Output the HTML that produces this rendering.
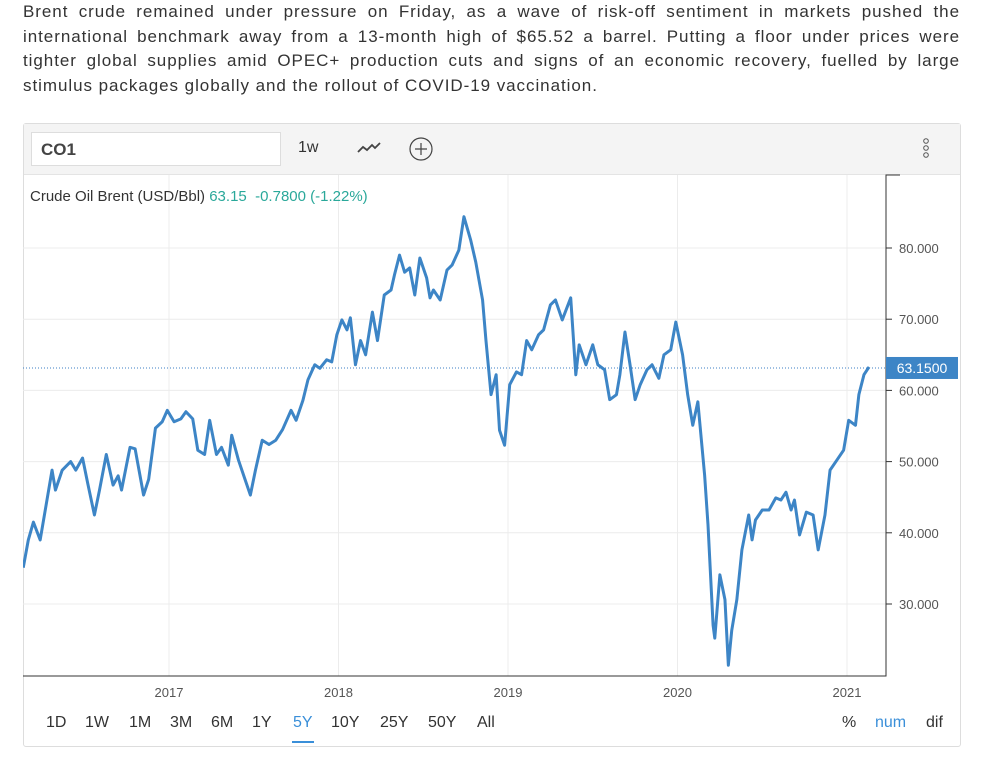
<!DOCTYPE html>
<html><head><meta charset="utf-8"><style>
body{margin:0;width:996px;height:772px;background:#fff;font-family:"Liberation Sans",sans-serif;position:relative;overflow:hidden}
#para{position:absolute;left:23px;top:0;width:937px;font-size:17px;line-height:24.5px;color:#333;letter-spacing:0.95px}
#para span{display:block;text-align:justify;text-align-last:justify;white-space:nowrap}
#para span.last{text-align-last:left}
#box{position:absolute;left:23px;top:123px;width:936px;height:622px;border:1px solid #ddd;border-radius:3px}
#tb{position:absolute;left:0;top:0;width:936px;height:50px;background:#f4f4f4;border-bottom:1px solid #e4e4e4}
#sym{position:absolute;left:7px;top:8px;height:34px;background:#fff;border:1px solid #ddd;font-weight:bold;font-size:17px;color:#444;line-height:34px;padding-left:9px;box-sizing:border-box;width:250px}
.t{position:absolute;font-size:16px;color:#333}
#svg{position:absolute;left:0;top:0}
</style></head><body>
<div id="para"><span>Brent crude remained under pressure on Friday, as a wave of risk-off sentiment in markets pushed the</span><span>international benchmark away from a 13-month high of $65.52 a barrel. Putting a floor under prices were</span><span>tighter global supplies amid OPEC+ production cuts and signs of an economic recovery, fuelled by large</span><span class="last">stimulus packages globally and the rollout of COVID-19 vaccination.</span></div>
<div id="box">
<div id="tb">
<div id="sym">CO1</div>
<div class="t" style="left:274px;top:15px">1w</div>
<svg style="position:absolute;left:332px;top:16px" width="26" height="16"><polyline points="2,12 7,7 11,10 16,5 19,8 24,3" fill="none" stroke="#444" stroke-width="1.8"/></svg>
<svg style="position:absolute;left:383px;top:11px" width="28" height="28"><circle cx="14" cy="14" r="11" fill="none" stroke="#444" stroke-width="1.2"/><path d="M14 8v12M8 14h12" stroke="#444" stroke-width="1.2"/></svg>
<svg style="position:absolute;left:897px;top:12px" width="10" height="28"><circle cx="5" cy="5" r="2.3" fill="none" stroke="#555"/><circle cx="5" cy="12" r="2.3" fill="none" stroke="#555"/><circle cx="5" cy="19" r="2.3" fill="none" stroke="#555"/></svg>
</div>
</div>
<svg id="svg" width="996" height="772"></svg>
<div class="t" style="left:30px;top:188px;font-size:15px">Crude Oil Brent (USD/Bbl) <span style="color:#2aa89a">63.15 &nbsp;-0.7800 (-1.22%)</span></div>
<div id="ranges"></div>
<div class="t" style="left:842px;top:714px">%</div>
<div class="t" style="left:875px;top:714px;color:#3a8fd9">num</div>
<div class="t" style="left:926px;top:714px">dif</div>
<script>
const dates=[2016.14,2016.17,2016.20,2016.24,2016.27,2016.31,2016.33,2016.37,2016.42,2016.45,2016.49,2016.52,2016.56,2016.59,2016.63,2016.67,2016.70,2016.72,2016.77,2016.80,2016.85,2016.88,2016.92,2016.96,2016.99,2017.03,2017.07,2017.10,2017.14,2017.17,2017.21,2017.24,2017.28,2017.31,2017.35,2017.37,2017.41,2017.45,2017.48,2017.51,2017.55,2017.59,2017.63,2017.67,2017.72,2017.75,2017.79,2017.82,2017.86,2017.89,2017.93,2017.96,2017.99,2018.02,2018.05,2018.07,2018.10,2018.13,2018.16,2018.20,2018.23,2018.27,2018.31,2018.33,2018.36,2018.39,2018.42,2018.45,2018.48,2018.52,2018.54,2018.56,2018.60,2018.64,2018.67,2018.71,2018.74,2018.78,2018.81,2018.85,2018.87,2018.90,2018.93,2018.95,2018.98,2019.01,2019.05,2019.08,2019.11,2019.14,2019.18,2019.21,2019.25,2019.28,2019.32,2019.37,2019.40,2019.42,2019.46,2019.50,2019.53,2019.57,2019.60,2019.64,2019.66,2019.69,2019.72,2019.75,2019.78,2019.82,2019.85,2019.89,2019.92,2019.96,2019.99,2020.03,2020.06,2020.09,2020.12,2020.16,2020.18,2020.21,2020.22,2020.25,2020.28,2020.30,2020.32,2020.35,2020.38,2020.42,2020.44,2020.46,2020.50,2020.54,2020.58,2020.61,2020.64,2020.67,2020.69,2020.72,2020.76,2020.80,2020.83,2020.87,2020.90,2020.94,2020.98,2021.01,2021.05,2021.07,2021.10,2021.13];
const prices=[35.1,39,41.5,39,43.2,48.8,46,48.8,50,48.8,50.5,47,42.5,46,51,46.7,48,46,52,51.8,45.3,47.5,54.7,55.6,57.2,55.6,56,57,56,51.6,51,55.8,51,52,49.5,53.7,50.2,47.4,45.3,48.8,53,52.4,53,54.5,57.2,55.8,58.6,61.5,63.6,63.1,64.3,64,67.8,69.9,68.5,70.2,63.6,67,65,71,67,73.4,74.1,76.2,79,76.6,77.2,73.4,78.6,75.8,73,74.1,72.7,76.9,77.6,79.7,84.4,81.1,78,72.7,67,59.4,62.2,54.4,52.3,60.8,62.6,62.2,67,65.7,67.8,68.5,72,72.7,69.9,73,62.2,66.4,63.6,66.4,63.6,62.9,58.7,59.4,62.2,68.2,63.6,58.7,60.8,62.9,63.6,61.7,65,65.7,69.6,65,59.4,55.1,58.4,48.1,41.1,27,25.2,34.1,30.6,21.4,26.3,30.6,37.6,42.5,39,41.8,43.2,43.2,44.9,44.6,45.7,43.2,44.6,39.7,42.9,42.5,37.6,42.5,48.8,50.2,51.6,55.8,55.1,59.4,62.2,63.3];
const yTicks=[30,40,50,60,70,80];
const yTickLabels=["30.000","40.000","50.000","60.000","70.000","80.000"];
const xTicks=[2017,2018,2019,2020,2021];
const xTickLabels=["2017","2018","2019","2020","2021"];
const lastPrice=63.15;
const ranges=["1D","1W","1M","3M","6M","1Y","5Y","10Y","25Y","50Y","All"];
const rangeLeft=[46,85,129,170,211,252,292,331,380,428,477];
const NS="http://www.w3.org/2000/svg";
const X=d=>169+(d-2017)*169.5, Y=v=>248+(80-v)*7.12;
const L=23,R=886,T=175,B=676;
const svg=document.getElementById('svg');
function mk(tag,a,parent){const e=document.createElementNS(NS,tag);for(const k in a)e.setAttribute(k,a[k]);(parent||svg).appendChild(e);return e;}
const defs=mk('defs',{});const cp=mk('clipPath',{id:'c'},defs);mk('rect',{x:L,y:T,width:R-L,height:B-T},cp);
yTicks.forEach((v,i)=>{const g=mk('line',{x1:L,x2:R,y1:Y(v),y2:Y(v),stroke:'#ececec'});

const tk=mk('line',{x1:R,x2:R+6,y1:Y(v),y2:Y(v),stroke:'#333'});

const t=mk('text',{x:R+13,y:Y(v)+5,'font-size':13,fill:'#555','font-family':'Liberation Sans'});t.textContent=yTickLabels[i];
});
xTicks.forEach((d,i)=>{const g=mk('line',{x1:X(d),x2:X(d),y1:T,y2:B,stroke:'#ececec'});

const t=mk('text',{x:X(d),y:697,'font-size':13,fill:'#555','text-anchor':'middle','font-family':'Liberation Sans'});t.textContent=xTickLabels[i];
});
const ax=mk('path',{d:`M${R+14} ${T}H${R}V${B}H${L}`,fill:'none',stroke:'#333'});

const pl=mk('line',{x1:L,x2:R,y1:Y(lastPrice),y2:Y(lastPrice),stroke:'#3d7fc4','stroke-dasharray':'1,2'});

const line=mk('polyline',{points:dates.map((d,i)=>X(d)+','+Y(prices[i])).join(' '),fill:'none',stroke:'#3d85c6','stroke-width':3,'stroke-linejoin':'round','clip-path':'url(#c)'});

const lb=mk('rect',{x:R,y:Y(lastPrice)-11,width:72,height:22,fill:'#3d85c6'});

const lt=mk('text',{x:R+36,y:Y(lastPrice)+5,'font-size':14,fill:'#fff','text-anchor':'middle','font-family':'Liberation Sans'});lt.textContent=lastPrice.toFixed(4);

const rg=document.getElementById('ranges');
ranges.forEach((r,i)=>{const s=document.createElement('div');s.className='t';s.textContent=r;s.style.left=rangeLeft[i]+'px';s.style.top='714px';


if(r==='5Y'){s.style.color='#3a8fd9';s.style.borderBottom='2px solid #3a8fd9';s.style.padding='0 1px 9px';}
rg.appendChild(s);});
</script>
</body></html>
